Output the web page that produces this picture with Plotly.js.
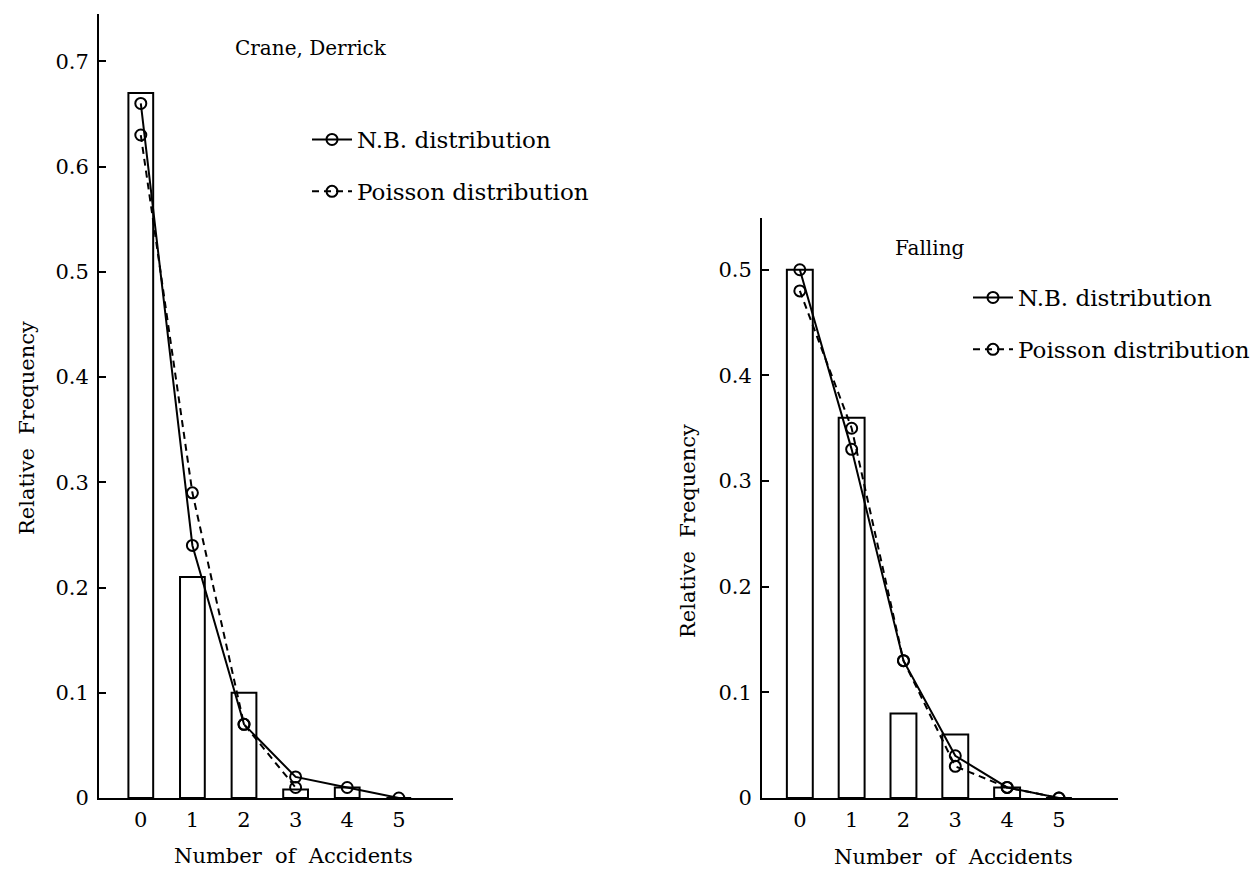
<!DOCTYPE html>
<html>
<head>
<meta charset="utf-8">
<script src="https://cdn.plot.ly/plotly-3.0.1.min.js"></script>
<style>html,body{margin:0;padding:0;background:#fff;}#chart{width:1258px;height:873px;}</style>
</head>
<body>
<div id="chart"></div>
<script>
// Data
const categories = [0, 1, 2, 3, 4, 5];
const tickLabels = ["0", "1", "2", "3", "4", "5"];

const craneObserved = [0.67, 0.21, 0.10, 0.008, 0.01, 0.0];
const craneNB = [0.66, 0.24, 0.07, 0.02, 0.01, 0.0];
const cranePoissonX = [0, 1, 2, 3];
const cranePoisson = [0.63, 0.29, 0.07, 0.01];

const fallingObserved = [0.50, 0.36, 0.08, 0.06, 0.01, 0.0];
const fallingNB = [0.50, 0.33, 0.13, 0.04, 0.01, 0.0];
const fallingPoisson = [0.48, 0.35, 0.13, 0.03, 0.01, 0.0];

const craneYTicks = [0, 0.1, 0.2, 0.3, 0.4, 0.5, 0.6, 0.7];
const craneYLabels = ["0", "0.1", "0.2", "0.3", "0.4", "0.5", "0.6", "0.7"];
const fallingYTicks = [0, 0.1, 0.2, 0.3, 0.4, 0.5];
const fallingYLabels = ["0", "0.1", "0.2", "0.3", "0.4", "0.5"];

const FONT = "DejaVu Serif, Liberation Serif, serif";
const FS = 21;
const W = 1258, H = 873;
const px = v => v / W;
const py = v => 1 - v / H;

const markerStyle = () => ({symbol: "circle-open", size: 11, color: "black", line: {width: 2, color: "black"}});

const traces = [
  {type: "bar", x: categories, y: craneObserved, width: 0.48, xaxis: "x", yaxis: "y",
   marker: {color: "white", line: {color: "black", width: 2}}, showlegend: false, hoverinfo: "skip"},
  {type: "scatter", mode: "lines+markers", x: categories, y: craneNB, xaxis: "x", yaxis: "y",
   name: "N.B. distribution", legend: "legend", legendgroup: "a",
   line: {color: "black", width: 2}, marker: markerStyle()},
  {type: "scatter", mode: "lines+markers", x: cranePoissonX, y: cranePoisson, xaxis: "x", yaxis: "y",
   name: "Poisson distribution", legend: "legend", legendgroup: "b",
   line: {color: "black", width: 2, dash: "7px,5px"}, marker: markerStyle()},

  {type: "bar", x: categories, y: fallingObserved, width: 0.5, xaxis: "x2", yaxis: "y2",
   marker: {color: "white", line: {color: "black", width: 2}}, showlegend: false, hoverinfo: "skip"},
  {type: "scatter", mode: "lines+markers", x: categories, y: fallingNB, xaxis: "x2", yaxis: "y2",
   name: "N.B. distribution", legend: "legend2", legendgroup: "c",
   line: {color: "black", width: 2}, marker: markerStyle()},
  {type: "scatter", mode: "lines+markers", x: categories, y: fallingPoisson, xaxis: "x2", yaxis: "y2",
   name: "Poisson distribution", legend: "legend2", legendgroup: "d",
   line: {color: "black", width: 2, dash: "7px,5px"}, marker: markerStyle()}
];

const xCommon = {
  showline: true, linecolor: "black", linewidth: 2, ticks: "", showgrid: false, zeroline: false,
  tickvals: categories, ticktext: tickLabels, tickfont: {family: FONT, size: FS, color: "black"},
  ticklabelstandoff: 2, fixedrange: true
};
const yCommon = {
  showline: true, linecolor: "black", linewidth: 2, ticks: "inside", ticklen: 7, tickwidth: 2,
  tickcolor: "black", showgrid: false, zeroline: false, tickfont: {family: FONT, size: FS, color: "black"},
  ticklabelstandoff: 4, fixedrange: true
};

const legendCommon = {xanchor: "left", yanchor: "top", bgcolor: "rgba(0,0,0,0)",
  font: {family: FONT, size: 23, color: "black"}, tracegroupgap: 19, itemwidth: 40};

const annFont = {family: FONT, size: FS, color: "black"};
const titleFont = {family: FONT, size: 20, color: "black"};
const layout = {
  width: W, height: H,
  margin: {l: 0, r: 0, t: 0, b: 0},
  paper_bgcolor: "white", plot_bgcolor: "white",
  font: {family: FONT, color: "black"},
  xaxis: Object.assign({}, xCommon, {domain: [px(99), px(453)], range: [-0.81, 6.05], anchor: "y"}),
  yaxis: Object.assign({}, yCommon, {domain: [1 - 798 / H, 1 - 14 / H], range: [0, 0.745], anchor: "x",
    tickvals: craneYTicks, ticktext: craneYLabels}),
  xaxis2: Object.assign({}, xCommon, {domain: [px(762), px(1118)], range: [-0.73, 6.14], anchor: "y2"}),
  yaxis2: Object.assign({}, yCommon, {domain: [1 - 798 / H, 1 - 218 / H], range: [0, 0.549], anchor: "x2",
    tickvals: fallingYTicks, ticktext: fallingYLabels}),
  legend: Object.assign({}, legendCommon, {x: px(307), y: py(118)}),
  legend2: Object.assign({}, legendCommon, {x: px(968), y: py(276)}),
  annotations: [
    {text: "Crane, Derrick", x: px(233), y: py(48), xref: "paper", yref: "paper", xanchor: "left", yanchor: "middle",
     showarrow: false, font: titleFont},
    {text: "Falling", x: px(893), y: py(248), xref: "paper", yref: "paper", xanchor: "left", yanchor: "middle",
     showarrow: false, font: titleFont},
    {text: "Relative  Frequency", x: px(27), y: py(428), xref: "paper", yref: "paper", textangle: -90,
     xanchor: "center", yanchor: "middle", showarrow: false, font: annFont},
    {text: "Relative  Frequency", x: px(688), y: py(531), xref: "paper", yref: "paper", textangle: -90,
     xanchor: "center", yanchor: "middle", showarrow: false, font: annFont},
    {text: "Number  of  Accidents", x: px(293), y: py(856), xref: "paper", yref: "paper",
     xanchor: "center", yanchor: "middle", showarrow: false, font: annFont},
    {text: "Number  of  Accidents", x: px(953), y: py(857), xref: "paper", yref: "paper",
     xanchor: "center", yanchor: "middle", showarrow: false, font: annFont}
  ]
};

Plotly.newPlot("chart", traces, layout, {displayModeBar: false, staticPlot: true});
</script>
</body>
</html>
